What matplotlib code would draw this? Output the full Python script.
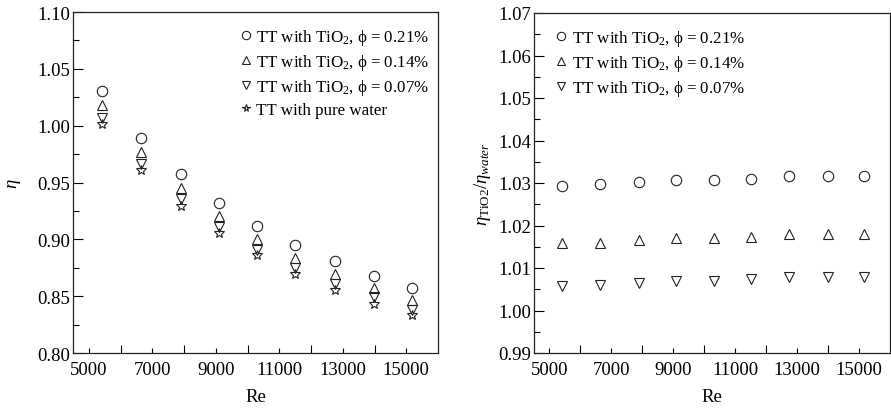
import matplotlib
matplotlib.use("Agg")
import matplotlib.pyplot as plt
from matplotlib.ticker import MultipleLocator, FixedLocator

plt.rcParams['font.family'] = ['Liberation Serif', 'DejaVu Serif']
plt.rcParams['mathtext.fontset'] = 'custom'
plt.rcParams['mathtext.rm'] = 'Liberation Serif'
plt.rcParams['mathtext.it'] = 'Liberation Serif:italic'
plt.rcParams['mathtext.bf'] = 'Liberation Serif:bold'

re_vals = [5400, 6630, 7890, 9100, 10310, 11500, 12745, 13990, 15170]

eta_021 = [1.0307, 0.9893, 0.9571, 0.9324, 0.9118, 0.8951, 0.8807, 0.8681, 0.8575]
eta_014 = [1.0178, 0.9767, 0.9450, 0.9204, 0.9004, 0.8837, 0.8693, 0.8575, 0.8470]
eta_007 = [1.0069, 0.9664, 0.9356, 0.9110, 0.8910, 0.8746, 0.8608, 0.8490, 0.8382]
eta_water = [1.0011, 0.9612, 0.9297, 0.9057, 0.8860, 0.8699, 0.8558, 0.8434, 0.8335]

ratio_021 = [1.0294, 1.0297, 1.0302, 1.0307, 1.0307, 1.0309, 1.0316, 1.0316, 1.0316]
ratio_014 = [1.0158, 1.0160, 1.0166, 1.0171, 1.0171, 1.0174, 1.0179, 1.0180, 1.0179]
ratio_007 = [1.0058, 1.0061, 1.0065, 1.0070, 1.0070, 1.0073, 1.0079, 1.0080, 1.0079]

labels = ["TT with TiO$_2$, \u03d5 = 0.21%",
          "TT with TiO$_2$, \u03d5 = 0.14%",
          "TT with TiO$_2$, \u03d5 = 0.07%",
          "TT with pure water"]

fig = plt.figure(figsize=(8.91, 4.10), dpi=100)
ax1 = fig.add_axes([73/891, 56/410, 365/891, 341/410])
ax2 = fig.add_axes([534/891, 56/410, 356/891, 340/410])

mk = dict(linestyle='none', markerfacecolor='none', markeredgecolor='#222222',
          markeredgewidth=0.8)

ax1.plot(re_vals, eta_021, marker='o', markersize=7.5, label=labels[0], **mk)
ax1.plot(re_vals, eta_014, marker='^', markersize=7.5, label=labels[1], **mk)
ax1.plot(re_vals, eta_007, marker='v', markersize=7.5, label=labels[2], **mk)
ax1.plot(re_vals, eta_water, marker='*', markersize=7, label=labels[3], **mk)

ax2.plot(re_vals, ratio_021, marker='o', markersize=7.5, label=labels[0], **mk)
ax2.plot(re_vals, ratio_014, marker='^', markersize=7.5, label=labels[1], **mk)
ax2.plot(re_vals, ratio_007, marker='v', markersize=7.5, label=labels[2], **mk)

for ax in (ax1, ax2):
    ax.set_xlim(4500, 16000)
    ax.xaxis.set_major_locator(FixedLocator([5000, 7000, 9000, 11000, 13000, 15000]))
    ax.xaxis.set_minor_locator(FixedLocator([6000, 8000, 10000, 12000, 14000]))
    ax.tick_params(axis='x', which='major', direction='in', length=3.5, width=0.8,
                   labelsize=13.5, pad=6)
    ax.tick_params(axis='x', which='minor', direction='in', length=6, width=0.8)
    ax.tick_params(axis='y', which='major', direction='in', length=7, width=0.8,
                   labelsize=13.5, pad=2)
    ax.tick_params(axis='y', which='minor', direction='in', length=4, width=0.8)
    ax.tick_params(top=False, right=False, which='both')
    for s in ax.spines.values():
        s.set_linewidth(0.9)
        s.set_color('#222222')
    ax.set_xlabel('Re', fontsize=13.5, labelpad=7)

ax1.set_ylim(0.80, 1.10)
ax1.yaxis.set_major_locator(MultipleLocator(0.05))
ax1.yaxis.set_minor_locator(MultipleLocator(0.025))
ax1.yaxis.set_major_formatter(matplotlib.ticker.FormatStrFormatter('%.2f'))
ax1.set_ylabel('$\\mathit{\\eta}$', fontsize=13.5, labelpad=10)

ax2.set_ylim(0.99, 1.07)
ax2.yaxis.set_major_locator(MultipleLocator(0.01))
ax2.yaxis.set_minor_locator(MultipleLocator(0.005))
ax2.yaxis.set_major_formatter(matplotlib.ticker.FormatStrFormatter('%.2f'))
ax2.set_ylabel('$\\mathit{\\eta}_{\\mathrm{TiO2}}/\\mathit{\\eta}_{water}$', fontsize=13.5, labelpad=4)

leg_kw = dict(frameon=False, fontsize=12.2, handlelength=0.5, handletextpad=0.35,
              labelspacing=0.28, borderaxespad=0.0, borderpad=0.0, markerscale=0.8)
ax1.legend(loc='upper right', bbox_to_anchor=(0.975, 0.955), **leg_kw)
ax2.legend(loc='upper left', bbox_to_anchor=(0.065, 0.955), **leg_kw)

fig.savefig('out.png', dpi=100)
